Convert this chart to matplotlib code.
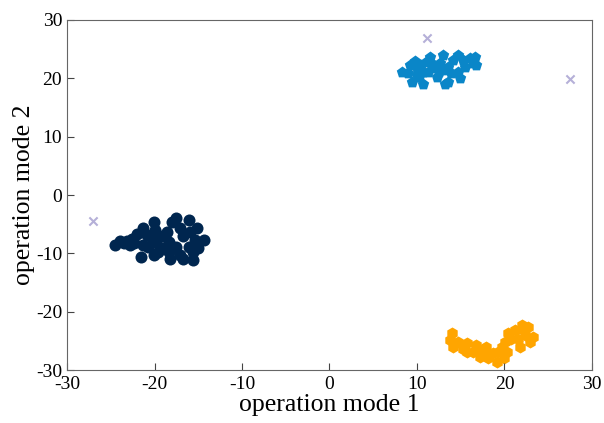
import matplotlib
matplotlib.use('Agg')
import matplotlib.pyplot as plt

plt.rcParams['font.family'] = ['Liberation Serif', 'DejaVu Serif']
plt.rcParams['axes.unicode_minus'] = False

# cluster 1 (circles)
c1_x = [-24.5, -23.9, -23.2, -22.6, -22.4, -22.8, -21.3, -20.1, -19.9, -20.9, -20.3,
        -21.3, -20.7, -21.5, -19.8, -19.2, -18.6, -18.0, -17.5, -18.4, -19.0, -18.4,
        -18.2, -17.1, -16.7, -16.1, -16.0, -15.2, -15.4, -14.4, -16.1, -15.6, -15.0,
        -17.1, -16.7, -15.6, -17.5, -19.6, -20.1, -22.0, -23.5]
c1_y = [-8.6, -7.9, -7.9, -7.5, -8.2, -8.5, -5.7, -4.6, -6.0, -6.9, -7.4,
        -8.6, -8.9, -10.6, -8.0, -7.1, -6.3, -4.6, -4.0, -8.0, -9.1, -9.7,
        -10.9, -5.7, -7.1, -4.3, -6.3, -5.7, -7.7, -7.7, -8.9, -9.7, -9.1,
        -10.3, -10.9, -11.1, -8.9, -9.7, -10.3, -6.6, -8.3]

# cluster 2 (pentagons)
c2_x = [8.25, 9.0, 9.8, 10.0, 10.5, 10.2, 10.7, 11.5, 11.3, 11.9, 12.3, 12.6, 13.0,
        13.2, 13.6, 13.2, 13.9, 14.1, 14.7, 14.7, 15.3, 15.5, 16.1, 16.4, 16.6, 16.8,
        14.9, 13.6, 10.7, 9.2, 9.4, 12.0, 11.0, 12.5, 10.0]
c2_y = [21.1, 20.9, 22.9, 21.7, 22.3, 20.3, 19.1, 23.7, 21.1, 21.7, 20.3, 22.6, 23.9,
        21.4, 22.0, 19.1, 20.9, 23.1, 23.9, 21.1, 23.1, 22.0, 23.4, 22.6, 23.7, 22.3,
        20.0, 19.4, 21.1, 22.3, 19.4, 22.3, 22.8, 21.0, 20.5]

# cluster 3 (hexagons)
c3_x = [14.0, 13.8, 14.1, 14.7, 15.3, 15.7, 16.4, 16.8, 17.4, 17.2, 17.9, 18.1, 18.7,
        19.3, 19.1, 19.7, 20.1, 20.3, 20.4, 20.8, 21.2, 21.6, 21.8, 22.2, 22.4, 22.7,
        22.9, 23.3, 22.0, 19.9, 17.8, 15.7]
c3_y = [-23.7, -24.9, -26.0, -25.1, -26.3, -25.4, -26.9, -25.7, -26.6, -27.7, -26.0,
        -28.0, -27.1, -26.9, -28.6, -26.0, -25.1, -26.9, -23.7, -24.6, -23.1, -24.6,
        -26.0, -23.1, -24.0, -22.6, -25.1, -24.3, -22.3, -28.0, -26.9, -26.9]

# outliers
out_x = [-27.0, 11.1, 27.5]
out_y = [-4.5, 26.9, 19.9]

fig = plt.figure(figsize=(6.04, 4.23), dpi=100)
ax = fig.add_axes([0.111, 0.125, 0.869, 0.828])

ax.scatter(c1_x, c1_y, s=75, marker='o', color='#00264f', linewidths=0)
ax.scatter(c2_x, c2_y, s=75, marker='p', color='#0a86c8', linewidths=0)
ax.scatter(c3_x, c3_y, s=75, marker='h', color='#ffa500', linewidths=0)
ax.scatter(out_x, out_y, s=35, marker='x', color='#b5b0d8', linewidths=1.5)

ax.set_xlim(-30, 30)
ax.set_ylim(-30, 30)
ax.set_xticks(range(-30, 31, 10))
ax.set_yticks(range(-30, 31, 10))
ax.tick_params(direction='in', labelsize=14, length=5, color='#444444')
ax.tick_params(axis='x', pad=4)
for sp in ax.spines.values():
    sp.set_color('#666666')
ax.set_xlabel('operation mode 1', fontsize=18.5, labelpad=1)
ax.set_ylabel('operation mode 2', fontsize=18.5, labelpad=1)

fig.savefig('out.png', dpi=100)
